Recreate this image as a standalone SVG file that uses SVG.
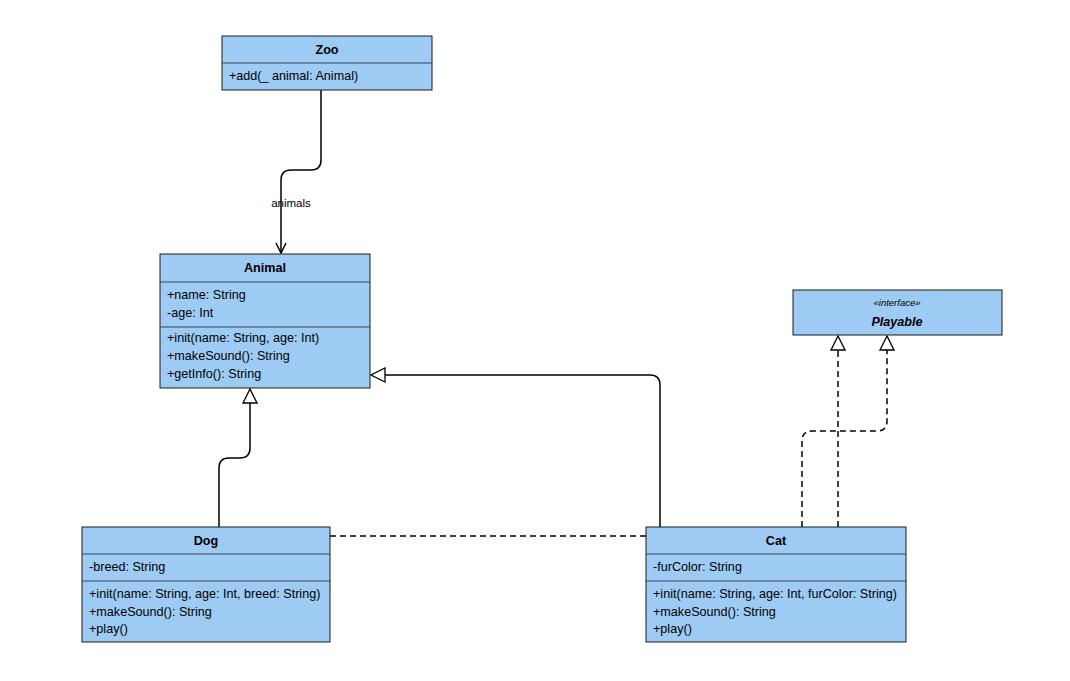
<svg xmlns="http://www.w3.org/2000/svg" width="1070" height="681" viewBox="0 0 1070 681">
<style>
.box{fill:#9ecbf4;stroke:#1a1a1a;stroke-width:1}
.sep{stroke:#3a4550;stroke-width:1}
.t{font-family:"Liberation Sans",Arial,sans-serif;font-size:12.6px;fill:#000}
.b{font-weight:bold;text-anchor:middle}
.c{fill:none;stroke:#000;stroke-width:1.5}
.d{stroke-dasharray:6 4}
.lbl{font-family:"Liberation Sans",Arial,sans-serif;font-size:11.5px;fill:#000;text-anchor:middle}
</style>
<defs>
<marker id="tri" viewBox="0 0 16 16" refX="15" refY="8" markerWidth="16" markerHeight="16" markerUnits="userSpaceOnUse" orient="auto">
<path d="M1,1 L15,8 L1,15 Z" fill="#fff" stroke="#000" stroke-width="1.3"/>
</marker>
<marker id="open" viewBox="0 0 12 12" refX="11" refY="6" markerWidth="12" markerHeight="12" markerUnits="userSpaceOnUse" orient="auto">
<path d="M1,1 L11,6 L1,11" fill="none" stroke="#000" stroke-width="1.5"/>
</marker>
</defs>
<rect width="1070" height="681" fill="#fff"/>
<g id="connectors">
<path class="c" d="M321,90 V160 Q321,170 311,170 H291 Q281,170 281,180 V253" marker-end="url(#open)"/>
<text class="lbl" x="291" y="207">animals</text>
<path class="c" d="M219,527 V468 Q219,458 229,458 H240 Q250,458 250,448 V389" marker-end="url(#tri)"/>
<path class="c" d="M660,527 V385 Q660,375 650,375 H371" marker-end="url(#tri)"/>
<path class="c d" d="M330,536 H646"/>
<path class="c d" d="M838,527 V336" marker-end="url(#tri)"/>
<path class="c d" d="M802,527 V441 Q802,431 812,431 H877 Q887,431 887,421 V336" marker-end="url(#tri)"/>
</g>
<g id="zoo">
<rect class="box" x="222" y="36" width="210" height="54"/>
<line class="sep" x1="222" y1="63" x2="432" y2="63"/>
<text class="t b" x="327" y="54">Zoo</text>
<text class="t" x="229" y="80">+add(_ animal: Animal)</text>
</g>
<g id="animal">
<rect class="box" x="160" y="254" width="210" height="134"/>
<line class="sep" x1="160" y1="282" x2="370" y2="282"/>
<line class="sep" x1="160" y1="327" x2="370" y2="327"/>
<text class="t b" x="265" y="272">Animal</text>
<text class="t" x="167" y="299">+name: String</text>
<text class="t" x="167" y="317">-age: Int</text>
<text class="t" x="167" y="342">+init(name: String, age: Int)</text>
<text class="t" x="167" y="360">+makeSound(): String</text>
<text class="t" x="167" y="378">+getInfo(): String</text>
</g>
<g id="playable">
<rect class="box" x="793" y="290" width="209" height="45"/>
<text class="t" x="897" y="306" style="font-size:9.5px;font-style:italic;text-anchor:middle">«interface»</text>
<text class="t b" x="897" y="326" style="font-style:italic">Playable</text>
</g>
<g id="dog">
<rect class="box" x="82" y="527" width="248" height="115"/>
<line class="sep" x1="82" y1="554" x2="330" y2="554"/>
<line class="sep" x1="82" y1="581" x2="330" y2="581"/>
<text class="t b" x="206" y="545">Dog</text>
<text class="t" x="89" y="571">-breed: String</text>
<text class="t" x="89" y="598">+init(name: String, age: Int, breed: String)</text>
<text class="t" x="89" y="616">+makeSound(): String</text>
<text class="t" x="89" y="633">+play()</text>
</g>
<g id="cat">
<rect class="box" x="646" y="527" width="260" height="115"/>
<line class="sep" x1="646" y1="554" x2="906" y2="554"/>
<line class="sep" x1="646" y1="581" x2="906" y2="581"/>
<text class="t b" x="776" y="545">Cat</text>
<text class="t" x="653" y="571">-furColor: String</text>
<text class="t" x="653" y="598">+init(name: String, age: Int, furColor: String)</text>
<text class="t" x="653" y="616">+makeSound(): String</text>
<text class="t" x="653" y="633">+play()</text>
</g>
</svg>
